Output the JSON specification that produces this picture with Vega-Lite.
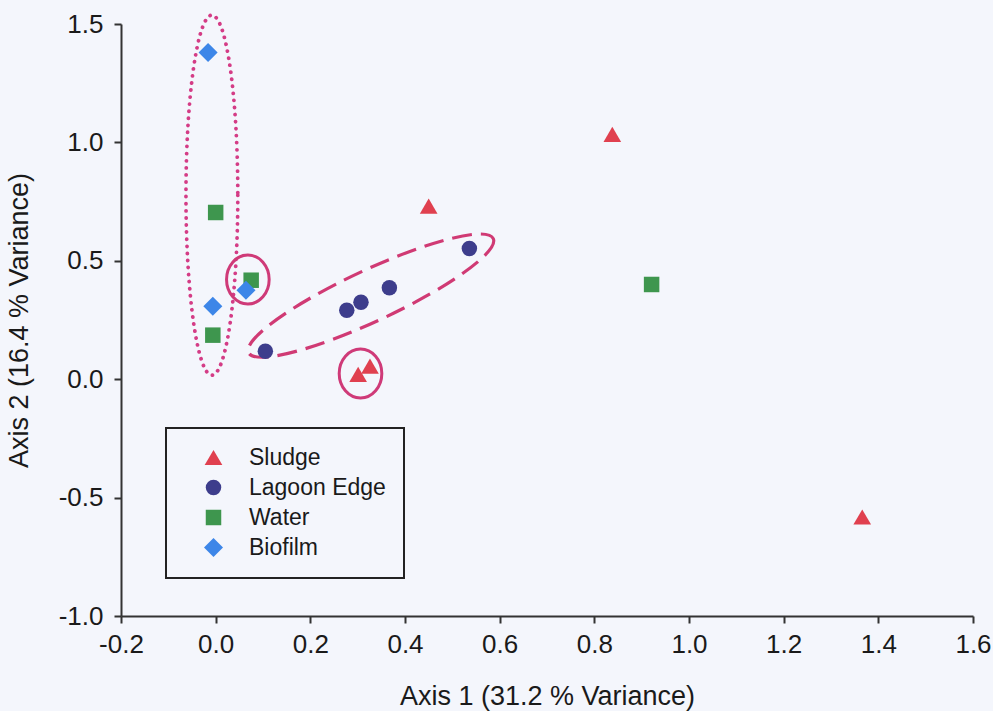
{
  "$schema": "https://vega.github.io/schema/vega-lite/v6.json",
  "autosize": {"type": "none"},
  "width": 852,
  "height": 592,
  "padding": {"left": 121, "top": 24, "right": 20, "bottom": 95},
  "background": "#f4f6fc",
  "config": {
    "locale": {"number": {"decimal": ".", "thousands": ",", "grouping": [3], "currency": ["$", ""], "minus": "-"}},
    "view": {"stroke": null},
    "font": "Liberation Sans",
    "axis": {
      "grid": false,
      "domainColor": "#333333",
      "domainWidth": 2,
      "tickColor": "#333333",
      "tickWidth": 2,
      "tickSize": 7,
      "labelFlush": false,
      "labelFont": "Liberation Sans",
      "labelFontSize": 26,
      "labelColor": "#1a1a1a",
      "titleFont": "Liberation Sans",
      "titleFontSize": 27,
      "titleFontWeight": "normal",
      "titleColor": "#1a1a1a"
    },
    "legend": {
      "strokeColor": "#222222",
      "strokeWidth": 2,
      "fillColor": "#f4f6fc",
      "padding": 18,
      "rowPadding": 6,
      "labelFontSize": 23,
      "labelFont": "Liberation Sans",
      "labelColor": "#1a1a1a",
      "symbolOffset": 18,
      "symbolSize": 240,
      "labelOffset": 24
    }
  },
  "layer": [
    {
      "data": {"values": [{"x": -0.008, "y": 0.777}]},
      "mark": {"type": "point", "filled": false, "color": "#d43c86", "strokeWidth": 3.8, "strokeDash": [0.1, 7], "strokeCap": "round", "opacity": 1,
        "shape": "M 0.144 0 C 0.144 0.5523 0.0795 1 0 1 C -0.0795 1 -0.144 0.5523 -0.144 0 C -0.144 -0.5523 -0.0795 -1 0 -1 C 0.0795 -1 0.144 -0.5523 0.144 0 Z",
        "size": 129600},
      "encoding": {
        "x": {"field": "x", "type": "quantitative", "scale": {"domain": [-0.2, 1.6], "nice": false, "zero": false}},
        "y": {"field": "y", "type": "quantitative", "scale": {"domain": [-1, 1.5], "nice": false, "zero": false}}
      }
    },
    {
      "data": {"values": [{"x": 0.328, "y": 0.353}]},
      "mark": {"type": "point", "filled": false, "color": "#d03a74", "strokeWidth": 3.2, "strokeDash": [20, 9], "opacity": 1, "angle": -25,
        "shape": "M 1 0 C 1 0.105 0.5523 0.19 0 0.19 C -0.5523 0.19 -1 0.105 -1 0 C -1 -0.105 -0.5523 -0.19 0 -0.19 C 0.5523 -0.19 1 -0.105 1 0 Z",
        "size": 72900},
      "encoding": {
        "x": {"field": "x", "type": "quantitative"},
        "y": {"field": "y", "type": "quantitative"}
      }
    },
    {
      "data": {"values": [{"x": 0.068, "y": 0.421}, {"x": 0.306, "y": 0.024}]},
      "mark": {"type": "point", "filled": false, "color": "#cf3a78", "strokeWidth": 3, "opacity": 1,
        "shape": "M 0.87 0 C 0.87 0.5523 0.4805 1 0 1 C -0.4805 1 -0.87 0.5523 -0.87 0 C -0.87 -0.5523 -0.4805 -1 0 -1 C 0.4805 -1 0.87 -0.5523 0.87 0 Z",
        "size": 2400},
      "encoding": {
        "x": {"field": "x", "type": "quantitative"},
        "y": {"field": "y", "type": "quantitative"}
      }
    },
    {
      "data": {"values": [
        {"group": "Sludge", "x": 0.838, "y": 1.034},
        {"group": "Sludge", "x": 0.45, "y": 0.731},
        {"group": "Sludge", "x": 0.301, "y": 0.02},
        {"group": "Sludge", "x": 0.326, "y": 0.055},
        {"group": "Sludge", "x": 1.366, "y": -0.582},
        {"group": "Lagoon Edge", "x": 0.105, "y": 0.118},
        {"group": "Lagoon Edge", "x": 0.277, "y": 0.291},
        {"group": "Lagoon Edge", "x": 0.307, "y": 0.325},
        {"group": "Lagoon Edge", "x": 0.367, "y": 0.386},
        {"group": "Lagoon Edge", "x": 0.536, "y": 0.552},
        {"group": "Water", "x": 0.0, "y": 0.704},
        {"group": "Water", "x": 0.075, "y": 0.418},
        {"group": "Water", "x": -0.006, "y": 0.186},
        {"group": "Water", "x": 0.921, "y": 0.4},
        {"group": "Biofilm", "x": -0.016, "y": 1.38},
        {"group": "Biofilm", "x": -0.006, "y": 0.308},
        {"group": "Biofilm", "x": 0.064, "y": 0.376}
      ]},
      "mark": {"type": "point", "filled": true, "opacity": 1, "size": 240},
      "encoding": {
        "x": {"field": "x", "type": "quantitative",
          "axis": {"title": "Axis 1 (31.2 % Variance)", "values": [-0.2, 0, 0.2, 0.4, 0.6, 0.8, 1.0, 1.2, 1.4, 1.6], "format": ".1f", "titlePadding": 26, "labelPadding": 8}},
        "y": {"field": "y", "type": "quantitative",
          "axis": {"title": "Axis 2 (16.4 % Variance)", "values": [-1, -0.5, 0, 0.5, 1.0, 1.5], "format": ".1f", "titlePadding": 25, "labelPadding": 11}},
        "color": {"field": "group", "type": "nominal",
          "scale": {"domain": ["Sludge", "Lagoon Edge", "Water", "Biofilm"], "range": ["#e0404f", "#3d3d8c", "#3e964e", "#3d86e8"]},
          "legend": {"title": null, "orient": "none", "legendX": 45, "legendY": 404}},
        "shape": {"field": "group", "type": "nominal",
          "scale": {"domain": ["Sludge", "Lagoon Edge", "Water", "Biofilm"], "range": ["M 0 -0.98 L 1.14 0.98 L -1.14 0.98 Z", "circle", "square", "M -1.23 0 L 0 -1.23 L 1.23 0 L 0 1.23 Z"]},
          "legend": {"title": null, "orient": "none", "legendX": 45, "legendY": 404}}
      }
    }
  ]
}
